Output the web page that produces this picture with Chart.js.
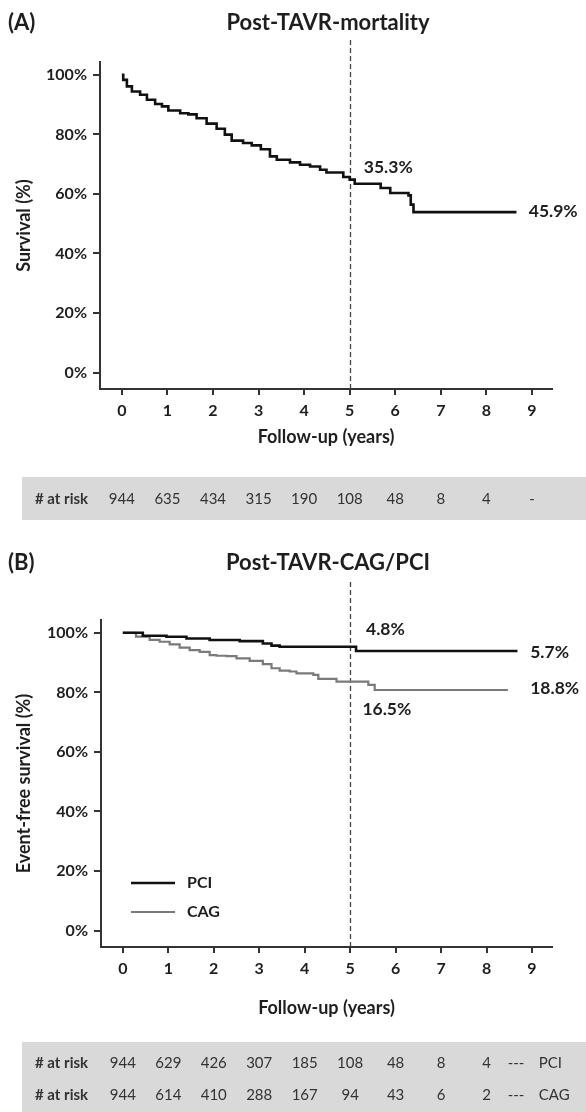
<!DOCTYPE html>
<html>
<head>
<meta charset="utf-8">
<script src="https://cdn.jsdelivr.net/npm/chart.js@4.4.1/dist/chart.umd.min.js"></script>
<style>
  html, body { margin: 0; padding: 0; background: #fff; }
  #wrap { position: relative; width: 586px; height: 1112px; }
  .panel { position: absolute; left: 0; width: 586px; }
</style>
</head>
<body>
<div id="wrap">
  <div class="panel" style="top:0;height:540px"><canvas id="canvasA" width="586" height="540"></canvas></div>
  <div class="panel" style="top:540px;height:572px"><canvas id="canvasB" width="586" height="572"></canvas></div>
</div>
<script>
// axis ticks
var xTicks = [0, 1, 2, 3, 4, 5, 6, 7, 8, 9];
var yTicks = [0, 20, 40, 60, 80, 100];

// (A) post-TAVR mortality, KM survival (%)
var mortTime = [0, 0.03, 0.11, 0.22, 0.40, 0.55, 0.73, 0.88, 1.02, 1.28, 1.46, 1.64, 1.86, 2.08, 2.26, 2.41,
    2.66, 2.85, 3.05, 3.25, 3.40, 3.69, 3.91, 4.13, 4.35, 4.49, 4.86, 5.00, 5.11, 5.68, 5.89, 6.29, 6.34, 6.40, 8.66];
var mortSurv = [100, 98.3, 96.1, 94.4, 93.3, 91.6, 90.2, 89.4, 88.0, 87.1, 86.7, 85.4, 83.6, 81.9, 79.9, 77.9,
    77.1, 76.3, 75.0, 72.6, 71.5, 70.6, 69.8, 69.2, 68.1, 67.2, 65.7, 64.8, 63.4, 62.0, 60.3, 59.5, 56.4, 53.9, 53.9];

// (B) event-free survival (%)
var pciTime = [0, 0.44, 0.96, 1.40, 1.91, 2.57, 3.08, 3.27, 3.45, 5.13, 8.68];
var pciSurv = [100, 99.0, 98.7, 98.1, 97.6, 97.2, 96.4, 95.7, 95.3, 93.9, 93.9];
var cagTime = [0, 0.29, 0.59, 0.81, 1.03, 1.25, 1.47, 1.69, 1.91, 2.06, 2.28, 2.50, 2.79, 3.08, 3.27, 3.45,
    3.67, 3.82, 4.19, 4.30, 4.70, 5.40, 5.54, 8.47];
var cagSurv = [100, 98.7, 97.6, 97.0, 96.1, 95.0, 94.2, 93.6, 92.5, 92.3, 92.2, 91.4, 90.6, 89.5, 88.1, 87.3,
    87.0, 86.4, 85.9, 84.5, 83.6, 82.5, 80.8, 80.8];

// numbers at risk
var riskA = ["944", "635", "434", "315", "190", "108", "48", "8", "4", "-"];
var riskPCI = ["944", "629", "426", "307", "185", "108", "48", "8", "4"];
var riskCAG = ["944", "614", "410", "288", "167", "94", "43", "6", "2"];

// percentage labels (text, year, survival)
var notesA = [["35.3%", 5.31, 68.8], ["45.9%", 8.93, 54.0]];
var notesB = [["4.8%", 5.35, 101.3], ["5.7%", 8.96, 93.3], ["18.8%", 8.96, 81.3], ["16.5%", 5.27, 74.2]];

var FONT = "Lato, 'Open Sans', sans-serif";
var INK = "#1e1e1e";

function toPoints(t, s) {
    var pts = [];
    for (var i = 0; i < t.length; i++) pts.push({ x: t[i], y: s[i] });
    return pts;
}

function makeScales(yTitle, yWidth, xHeight, xTitlePad) {
    return {
        x: {
            type: "linear", min: -0.48, max: 9.44,
            afterBuildTicks: function (scale) {
                scale.ticks = xTicks.map(function (v) { return { value: v }; });
            },
            afterFit: function (scale) { scale.height = xHeight; },
            grid: { drawOnChartArea: false, drawTicks: true, tickLength: 6, color: "#333", lineWidth: 2 },
            border: { display: true, color: "#333", width: 2 },
            ticks: { padding: 6, color: INK, maxRotation: 0, font: { family: FONT, weight: "bold", size: 16 } },
            title: {
                display: true, text: "Follow-up (years)", color: INK,
                font: { family: FONT, weight: "bold", size: 18 }, padding: { top: 0, bottom: xTitlePad }
            }
        },
        y: {
            type: "linear", min: -5.5, max: 104.3,
            afterBuildTicks: function (scale) {
                scale.ticks = yTicks.map(function (v) { return { value: v }; });
            },
            afterFit: function (scale) { scale.width = yWidth; },
            grid: { drawOnChartArea: false, drawTicks: true, tickLength: 7, color: "#333", lineWidth: 2 },
            border: { display: true, color: "#333", width: 2 },
            ticks: {
                padding: 6, color: INK, font: { family: FONT, weight: "bold", size: 16 },
                callback: function (v) { return v + "%"; }
            },
            title: {
                display: true, text: yTitle, color: INK,
                font: { family: FONT, weight: "bold", size: 18 }, padding: { top: 13, bottom: 0 }
            }
        }
    };
}

// draws panel titles, the dashed 5-year line, % labels, legend and the at-risk table
function makeDecor(cfg) {
    return {
        id: "decor",
        beforeDatasetsDraw: function (chart) {
            var ctx = chart.ctx;
            var x = Math.round(chart.scales.x.getPixelForValue(5)) + 0.5;
            ctx.save();
            ctx.strokeStyle = "#444";
            ctx.lineWidth = 1.3;
            ctx.setLineDash([5, 3]);
            ctx.beginPath();
            ctx.moveTo(x, cfg.dashTop);
            ctx.lineTo(x, chart.chartArea.bottom);
            ctx.stroke();
            ctx.restore();
        },
        afterDraw: function (chart) {
            var ctx = chart.ctx;
            var xs = chart.scales.x, ys = chart.scales.y;
            var i, j;
            ctx.save();
            ctx.fillStyle = INK;
            ctx.textBaseline = "middle";

            // titles
            ctx.font = "bold 22px " + FONT;
            ctx.textAlign = "left";
            ctx.fillText(cfg.tag, 8, 23);
            ctx.textAlign = "center";
            ctx.fillText(cfg.title, 328, 23);

            // % labels
            ctx.font = "bold 17.5px " + FONT;
            ctx.textAlign = "left";
            for (i = 0; i < cfg.notes.length; i++) {
                var n = cfg.notes[i];
                ctx.fillText(n[0], xs.getPixelForValue(n[1]), ys.getPixelForValue(n[2]));
            }

            // legend
            if (cfg.legend) {
                var ds = chart.data.datasets;
                for (i = 0; i < ds.length; i++) {
                    var ly = cfg.legendY + i * 29;
                    ctx.strokeStyle = ds[i].borderColor;
                    ctx.lineWidth = ds[i].borderWidth;
                    ctx.beginPath();
                    ctx.moveTo(131, ly);
                    ctx.lineTo(175, ly);
                    ctx.stroke();
                    ctx.fillStyle = INK;
                    ctx.font = "bold 16px " + FONT;
                    ctx.fillText(ds[i].label, 187, ly);
                }
            }

            // at-risk table
            ctx.fillStyle = "#d9d9d9";
            ctx.fillRect(22, cfg.bandTop, 586 - 22, cfg.bandBottom - cfg.bandTop);
            for (j = 0; j < cfg.rows.length; j++) {
                var row = cfg.rows[j];
                var ry = cfg.rowY + j * 32;
                ctx.fillStyle = "#333";
                ctx.font = "bold 15px " + FONT;
                ctx.textAlign = "left";
                ctx.fillText("# at risk", 35, ry);
                ctx.font = "15px " + FONT;
                ctx.textAlign = "center";
                for (i = 0; i < row.values.length; i++) {
                    ctx.fillText(row.values[i], xs.getPixelForValue(xTicks[i]), ry);
                }
                if (row.name) {
                    ctx.fillText("---", xs.getPixelForValue(8.65), ry);
                    ctx.textAlign = "left";
                    ctx.fillText(row.name, xs.getPixelForValue(9.15), ry);
                }
            }
            ctx.restore();
        }
    };
}

function baseOptions(padding, scales) {
    return {
        responsive: false,
        animation: false,
        layout: { padding: padding },
        plugins: { legend: { display: false }, tooltip: { enabled: false } },
        elements: { point: { radius: 0 } },
        scales: scales
    };
}

function main() {
    var ctxA = document.getElementById("canvasA").getContext("2d");
    new Chart(ctxA, {
        type: "line",
        data: {
            datasets: [{
                label: "Mortality",
                data: toPoints(mortTime, mortSurv),
                borderColor: "#111", borderWidth: 2.6, stepped: true, fill: false
            }]
        },
        options: baseOptions({ top: 62, right: 34, bottom: 91, left: 0 },
            makeScales("Survival (%)", 100, 60, 1.2)),
        plugins: [makeDecor({
            tag: "(A)", title: "Post-TAVR-mortality", dashTop: 40, notes: notesA,
            legend: false, bandTop: 477, bandBottom: 520, rowY: 499,
            rows: [{ values: riskA }]
        })]
    });

    var ctxB = document.getElementById("canvasB").getContext("2d");
    new Chart(ctxB, {
        type: "line",
        data: {
            datasets: [{
                label: "PCI",
                data: toPoints(pciTime, pciSurv),
                borderColor: "#111", borderWidth: 2.6, stepped: true, fill: false
            }, {
                label: "CAG",
                data: toPoints(cagTime, cagSurv),
                borderColor: "#7a7a7a", borderWidth: 2.2, stepped: true, fill: false
            }]
        },
        options: baseOptions({ top: 80, right: 34, bottom: 85, left: 0 },
            makeScales("Event-free survival (%)", 101, 80, 8.2)),
        plugins: [makeDecor({
            tag: "(B)", title: "Post-TAVR-CAG/PCI", dashTop: 42, notes: notesB,
            legend: true, legendY: 343, bandTop: 502, bandBottom: 572, rowY: 523,
            rows: [{ values: riskPCI, name: "PCI" }, { values: riskCAG, name: "CAG" }]
        })]
    });
}

document.addEventListener("DOMContentLoaded", main);
</script>
</body>
</html>
